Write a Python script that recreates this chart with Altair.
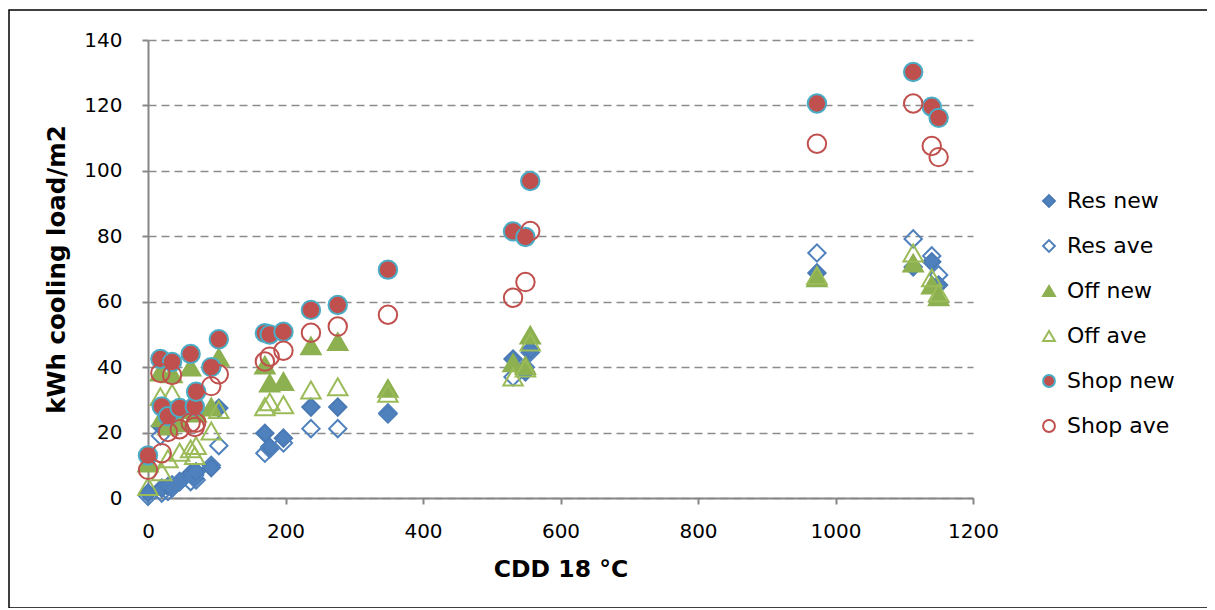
import altair as alt
import pandas as pd

# CDD 18 °C of each location
cdd = [0, 18, 20, 29, 35, 46, 62, 68, 70, 92, 103, 170, 177, 197, 237, 276, 349,
       531, 549, 556, 973, 1113, 1140, 1150]

res_new = [1.5, 22, 3, 3.5, 3, 5, 7.5, 6, 8, 9.3, 27.5, 19.8, 15.6, 18.3, 27.8, 27.8, 25.7,
           42.5, 38.5, 45.2, 68.8, 70.6, 72.2, 65.1]
res_ave = [0.5, 19, 1.5, 2, 4, 5, 5, 7, 5.5, 10, 16, 13.7, 15, 16.8, 21.2, 21.2, 26,
           37, 40, 44.5, 74.9, 79.2, 74, 68.2]
off_new = [10.7, 38.5, 24.5, 22, 38, 23, 40, 27, 26, 27.8, 43, 40.6, 35.1, 35.6, 46.5, 47.8, 33.5,
           41.3, 40.5, 49.8, 67.3, 71.8, 65.1, 61.5]
off_ave = [3.5, 31, 8, 12, 32, 14, 15, 13, 16, 20.5, 27, 27.9, 29.4, 28.5, 33, 34, 32,
           37, 39.7, 47.7, 68, 74.9, 67.3, 62.7]
shop_new = [13, 42.5, 28, 25, 41.6, 27.5, 44, 28, 32.5, 40, 48.5, 50.4, 50, 50.8, 57.5, 59, 69.8,
            81.5, 79.8, 96.9, 120.6, 130.2, 119.6, 116.2]
shop_ave = [8.6, 38.2, 13.7, 20.2, 37.6, 21, 23, 21.7, 23, 34.2, 37.8, 41.7, 43.2, 45, 50.5, 52.4, 56,
            61.2, 66, 81.6, 108.3, 120.6, 107.6, 104.2]

series_names = ["Res new", "Res ave", "Off new", "Off ave", "Shop new", "Shop ave"]
series_values = [res_new, res_ave, off_new, off_ave, shop_new, shop_ave]

rows = []
for name, vals in zip(series_names, series_values):
    for x, y in zip(cdd, vals):
        rows.append({"cdd": x, "load": y, "series": name})
df = pd.DataFrame(rows)

shapes = ["diamond", "diamond", "triangle-up", "triangle-up", "circle", "circle"]
fills = ["#4F81BD", "#FFFFFF00", "#8DB050", "#FFFFFF00", "#C0504D", "#FFFFFF00"]
strokes = ["#4A7AB5", "#4F81BD", "#8DB050", "#9BBB59", "#4BACC6", "#C0504D"]
group_sizes = {"Res": 300, "Off": 380, "Shop": 340}

leg = alt.Legend(title=None, orient="none", legendX=890, legendY=150,
                 labelFont="DejaVu Sans", labelFontSize=22, labelColor="black",
                 symbolSize=140, symbolStrokeWidth=2, rowPadding=23, labelOffset=7)

base = alt.Chart(df).encode(
    x=alt.X("cdd:Q", scale=alt.Scale(domain=[0, 1200], nice=False),
            axis=alt.Axis(values=[0, 200, 400, 600, 800, 1000, 1200], title="CDD 18 °C",
                          grid=False, format="d", labelFlush=False)),
    y=alt.Y("load:Q", scale=alt.Scale(domain=[0, 140], nice=False),
            axis=alt.Axis(values=[0, 20, 40, 60, 80, 100, 120, 140],
                          title="kWh cooling load/m2", grid=True, format="d")),
    shape=alt.Shape("series:N", scale=alt.Scale(domain=series_names, range=shapes), legend=leg),
    fill=alt.Fill("series:N", scale=alt.Scale(domain=series_names, range=fills), legend=leg),
    stroke=alt.Stroke("series:N", scale=alt.Scale(domain=series_names, range=strokes), legend=leg),
)

layers = []
for grp, sz in group_sizes.items():
    layers.append(
        base.transform_filter(alt.FieldOneOfPredicate(field="series", oneOf=[grp + " new", grp + " ave"]))
        .mark_point(filled=True, opacity=1, strokeWidth=2, size=sz)
    )

frame = alt.Chart(alt.Data(values=[{"a": 1}])).mark_rect(
    fillOpacity=0, stroke="black", strokeWidth=1.5
).encode(
    x=alt.value(-139), x2=alt.value(1064), y=alt.value(-30), y2=alt.value(568)
)

chart = alt.layer(*layers, frame).properties(
    width=825, height=458,
    padding={"left": 140, "top": 32, "right": 234, "bottom": 110},
    autosize=alt.AutoSizeParams(type="none"),
).configure_view(stroke=None).configure_axis(
    domainColor="#868686", domainWidth=2,
    tickColor="#868686", tickWidth=2, tickSize=6,
    labelFont="DejaVu Sans", labelFontSize=20, labelColor="black",
    titleFont="DejaVu Sans", titleFontSize=23.5, titleFontWeight="bold", titleColor="black",
    gridColor="#8C8C8C", gridWidth=1.5, gridDash=[8, 5],
).configure_axisX(
    labelPadding=17, titlePadding=16,
).configure_axisY(
    labelPadding=20, titlePadding=14, titleFontSize=24.5,
)

chart.save("out.html", embed_options={"renderer": "svg", "actions": False})
